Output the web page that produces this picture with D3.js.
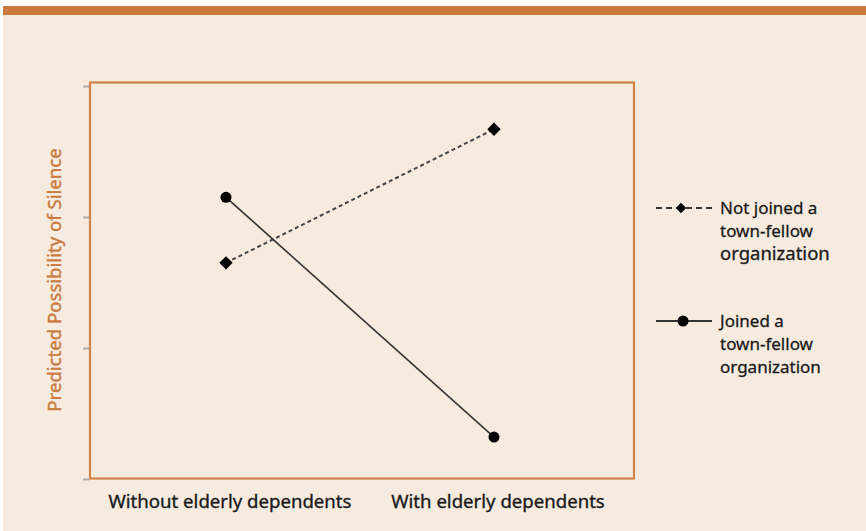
<!doctype html>
<html>
<head>
<meta charset="utf-8">
<style>
  body { margin: 0; background: #fff; }
  svg { display: block; font-family: "Noto Sans", Roboto, sans-serif; }
</style>
</head>
<body>
<script src="https://cdn.jsdelivr.net/npm/d3@7"></script>
<script>
  // data
  var categories = ["Without elderly dependents", "With elderly dependents"];
  var notJoined = [1.65, 2.67];
  var joined = [2.15, 0.32];
  var yTicks = [0, 1, 2, 3];
  var seriesNames = ["Not joined a|town-fellow|organization", "Joined a|town-fellow|organization"];

  var width = 866, height = 531;
  var orange = "#c97a3e";

  var svg = d3.select("body").append("svg").attr("width", width).attr("height", height);

  // background + top band
  svg.append("rect").attr("x", 3).attr("y", 6).attr("width", width - 3).attr("height", height - 6).attr("fill", "#f7ebe0");
  svg.append("rect").attr("x", 3).attr("y", 6).attr("width", width - 3).attr("height", 9).attr("fill", orange);

  var xScale = d3.scalePoint().domain(categories).range([226, 494]);
  var yScale = d3.scaleLinear().domain([0, 3]).range([479, 86]);

  // y ticks (grey, outside frame)
  svg.append("g")
    .attr("transform", "translate(89,0)")
    .call(d3.axisLeft(yScale).tickValues(yTicks).tickSize(6).tickFormat(""))
    .call(function(g){
      g.select(".domain").remove();
      g.selectAll("line").attr("stroke", "#aaa").attr("stroke-width", 2);
    });

  // frame
  svg.append("rect").attr("x", 90).attr("y", 82.5).attr("width", 544).attr("height", 396)
    .attr("fill", "none").attr("stroke", "#d0824a").attr("stroke-width", 2.2);

  // x labels
  svg.selectAll(".xlab").data(categories).enter().append("text")
    .attr("x", function(d){ return xScale(d) + 4; })
    .attr("y", 508)
    .attr("text-anchor", "middle")
    .attr("font-size", 18.6)
    .attr("fill", "#1a1a1a")
    .attr("stroke", "#1a1a1a").attr("stroke-width", 0.35)
    .text(function(d){ return d; });

  // y title
  svg.append("text")
    .attr("transform", "translate(61,280) rotate(-90)")
    .attr("text-anchor", "middle")
    .attr("font-size", 18.6)
    .attr("fill", orange)
    .attr("stroke", orange).attr("stroke-width", 0.4)
    .text("Predicted Possibility of Silence");

  var line = d3.line()
    .x(function(d, i){ return xScale(categories[i]); })
    .y(function(d){ return yScale(d); });

  svg.append("path").attr("d", line(notJoined)).attr("fill", "none")
    .attr("stroke", "#444").attr("stroke-width", 2).attr("stroke-dasharray", "4,3");
  svg.append("path").attr("d", line(joined)).attr("fill", "none")
    .attr("stroke", "#333").attr("stroke-width", 1.6);

  var diamond = d3.symbol().type(d3.symbolSquare).size(90);
  svg.selectAll(".dia").data(notJoined).enter().append("path")
    .attr("d", diamond)
    .attr("transform", function(d, i){ return "translate(" + xScale(categories[i]) + "," + yScale(d) + ") rotate(45)"; })
    .attr("fill", "#000");
  svg.selectAll(".dot").data(joined).enter().append("circle")
    .attr("cx", function(d, i){ return xScale(categories[i]); })
    .attr("cy", function(d){ return yScale(d); })
    .attr("r", 5.5)
    .attr("fill", "#000");

  // legend
  var legY = [208, 321];
  legY.forEach(function(y, k){
    var g = svg.append("g");
    g.append("line").attr("x1", 656).attr("x2", 712).attr("y1", y).attr("y2", y)
      .attr("stroke", k == 0 ? "#333" : "#333").attr("stroke-width", 2)
      .attr("stroke-dasharray", k == 0 ? "6,4" : null);
    if (k == 0) {
      g.append("path").attr("d", d3.symbol().type(d3.symbolSquare).size(55))
        .attr("transform", "translate(681," + y + ") rotate(45)").attr("fill", "#000");
    } else {
      g.append("circle").attr("cx", 683).attr("cy", y).attr("r", 5.5).attr("fill", "#000");
    }
    seriesNames[k].split("|").forEach(function(t, j){
      g.append("text").attr("x", 720).attr("y", y + 6 + j * 23)
        .attr("font-size", (k == 0 && j == 2) ? 18.5 : 17)
        .attr("fill", "#1a1a1a")
        .attr("stroke", "#1a1a1a").attr("stroke-width", 0.3)
        .text(t);
    });
  });
</script>
</body>
</html>
